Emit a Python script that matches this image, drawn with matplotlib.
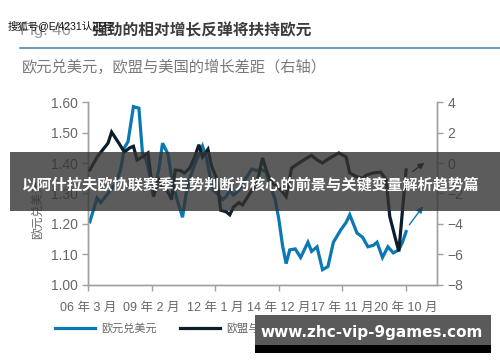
import matplotlib
matplotlib.use("Agg")
import matplotlib.pyplot as plt
from matplotlib.patches import Rectangle

plt.rcParams['font.family'] = ['Liberation Sans', 'Noto Sans CJK SC', 'DejaVu Sans']

# months since 2006-03
eur_month = [1, 5, 7, 11, 15, 18, 20, 22, 25, 28, 30, 32, 34, 36, 39, 41, 44, 46, 49, 52,
             54, 56, 59, 62, 63, 65, 67, 69, 71, 74, 76, 78, 80, 83, 85, 88, 90, 93, 95, 98,
             100, 103, 105, 107, 109, 111, 114, 117, 121, 123, 126, 129, 132, 135, 139, 142,
             144, 148, 151, 154, 157, 159, 162, 165, 168, 171, 173, 175]
eur_usd = [1.207, 1.285, 1.27, 1.30, 1.33, 1.38, 1.45, 1.47, 1.585, 1.58, 1.43, 1.41, 1.36,
           1.30, 1.38, 1.465, 1.43, 1.35, 1.28, 1.222, 1.30, 1.35, 1.40, 1.44, 1.455, 1.42,
           1.36, 1.31, 1.30, 1.28, 1.29, 1.31, 1.295, 1.31, 1.335, 1.36, 1.38, 1.375, 1.38,
           1.37, 1.33, 1.28, 1.215, 1.13, 1.07, 1.115, 1.118, 1.09, 1.14, 1.11, 1.125, 1.05,
           1.06, 1.14, 1.18, 1.205, 1.23, 1.17, 1.157, 1.125, 1.13, 1.14, 1.09, 1.125, 1.105,
           1.115, 1.14, 1.175]

gap_month = [1, 5, 8, 11, 13, 17, 20, 23, 25, 27, 30, 33, 36, 39, 41, 44, 46, 48, 51, 53,
             56, 59, 61, 63, 66, 68, 71, 73, 76, 78, 80, 83, 85, 89, 93, 96, 99, 102, 105,
             109, 112, 117, 120, 123, 126, 129, 133, 138, 142, 144, 148, 151, 153, 157, 161,
             164, 166, 169, 171, 174, 175]
growth_gap = [-0.46, 0.39, 0.85, 1.3, 2.03, 1.3, 0.72, 1.0, 1.1, 0.2, 0.4, 0.66, -2.2, -1.1,
              -1.6, -1.9, -2.4, -0.46, -0.5, -0.66, -0.33, 0.5, 1.2, 0.4, 0.9, -0.2, -1.1,
              -3.1, -3.2, -3.4, -2.9, -2.6, -2.75, -2.0, -1.3, 0.33, -0.8, -1.4, -1.6, -2.2,
              -0.33, 0.07, 0.3, 0.5, 0.2, 0.0, 0.33, 0.66, 0.4, -0.66, -0.9, -1.0, -0.8,
              -0.65, -0.6, -1.1, -3.5, -4.9, -5.8, -1.8, -0.45]

# trend arrows (month, right-axis value): start, end
gap_arrow = [(177.5, -0.66), (186.3, 0.13)]
eur_arrow = [(175.9, -4.2), (185.2, -2.7)]

tick_pos = [0, 35, 70, 105, 140, 175]
tick_labels = ['06 年 3 月', '09 年 2 月', '12 年 1 月', '14 年 12 月', '17 年 11 月', '20 年 10 月']

blue = '#0a78b2'
navy = '#0b1e2c'
gray = '#666666'
spine = '#a0a0a0'

fig = plt.figure(figsize=(5, 3.62), dpi=100)
ax = fig.add_axes([0.176, 0.213, 0.698, 0.505])
ax2 = ax.twinx()

l1, = ax.plot(eur_month, eur_usd, color=blue, lw=2.3, solid_joinstyle='miter', zorder=2)
l2, = ax2.plot(gap_month, growth_gap, color=navy, lw=2.3, solid_joinstyle='miter', zorder=3)

ax.set_xlim(0, 192)
ax.set_ylim(1.0, 1.6)
ax.set_yticks([1.0, 1.1, 1.2, 1.3, 1.4, 1.5, 1.6])
ax.set_yticklabels([f'{v:.2f}' for v in ax.get_yticks()])
ax2.set_ylim(-8, 4)
ax2.set_yticks(range(-8, 5, 2))
ax.set_xticks(tick_pos)
ax.set_xticklabels(tick_labels)

for a in (ax, ax2):
    a.spines['top'].set_visible(False)
    for s in ('left', 'right', 'bottom'):
        a.spines[s].set_color(spine)
        a.spines[s].set_linewidth(1.0)
    a.tick_params(colors=spine, labelcolor=gray, labelsize=10, length=4, width=1)
ax.tick_params(axis='x', labelsize=9, pad=8)

ax2.annotate('', xy=gap_arrow[1], xytext=gap_arrow[0],
             arrowprops=dict(arrowstyle='-|>', color=navy, lw=1.0, mutation_scale=9))
ax2.annotate('', xy=eur_arrow[1], xytext=eur_arrow[0],
             arrowprops=dict(arrowstyle='-|>', color=blue, lw=1.0, mutation_scale=9))

fig.text(0.076, 1 - 210 / 362, '欧元兑美元', rotation=90, va='center', ha='center',
         fontsize=8.5, color=gray)

# titles
fig.text(0.04, 1 - 31 / 362, 'Fig. 46', fontsize=12, color='#9a9a9a', va='center')
fig.text(0.182, 1 - 31 / 362, '强劲的相对增长反弹将扶持欧元', fontsize=11.3, color='#3c3c3c',
         va='center', fontweight='bold')
fig.text(0.016, 1 - 26 / 362, '搜狐号@E/4231认证号', fontsize=7.5, color='#111111', va='center')
fig.add_artist(plt.Line2D([0.04, 1.0], [1 - 48 / 362] * 2, color='#4b8db5', lw=1.2))
fig.text(0.044, 1 - 67 / 362, '欧元兑美元，欧盟与美国的增长差距（右轴）', fontsize=11,
         color='#7a7a7a', va='center')

fig.legend([l1, l2], ['欧元兑美元', '欧盟与美国的增长差距（右轴）'], ncol=2, frameon=False,
           loc='center left', bbox_to_anchor=(0.11, 1 - 328 / 362), fontsize=8,
           handlelength=3.6, handletextpad=0.6, columnspacing=2.0, borderpad=0,
           borderaxespad=0, labelcolor=gray)

# overlay banners
fig.add_artist(Rectangle((0.02, 1 - 211 / 362), 0.98, 59 / 362, transform=fig.transFigure,
                         facecolor='#333333', alpha=0.8, edgecolor='none', zorder=10))
fig.text(0.502, 1 - 185 / 362, '以阿什拉夫欧协联赛季走势判断为核心的前景与关键变量解析趋势篇',
         fontsize=11, color='white', fontweight='bold', ha='center', va='center', zorder=11)
fig.add_artist(Rectangle((0.51, 1 - 353 / 362), 0.472, 38 / 362, transform=fig.transFigure,
                         facecolor='#5a5a5a', edgecolor='none', zorder=10))
fig.add_artist(Rectangle((0.51, 1 - 353 / 362), 0.472, 8 / 362, transform=fig.transFigure,
                         facecolor='#000000', edgecolor='none', zorder=10))
fig.text(0.744, 1 - 332 / 362, 'www.zhc-vip-9games.com', fontsize=11, color='white',
         fontweight='bold', ha='center', va='center', zorder=11, family='DejaVu Sans')

fig.savefig('out.png', dpi=100)
